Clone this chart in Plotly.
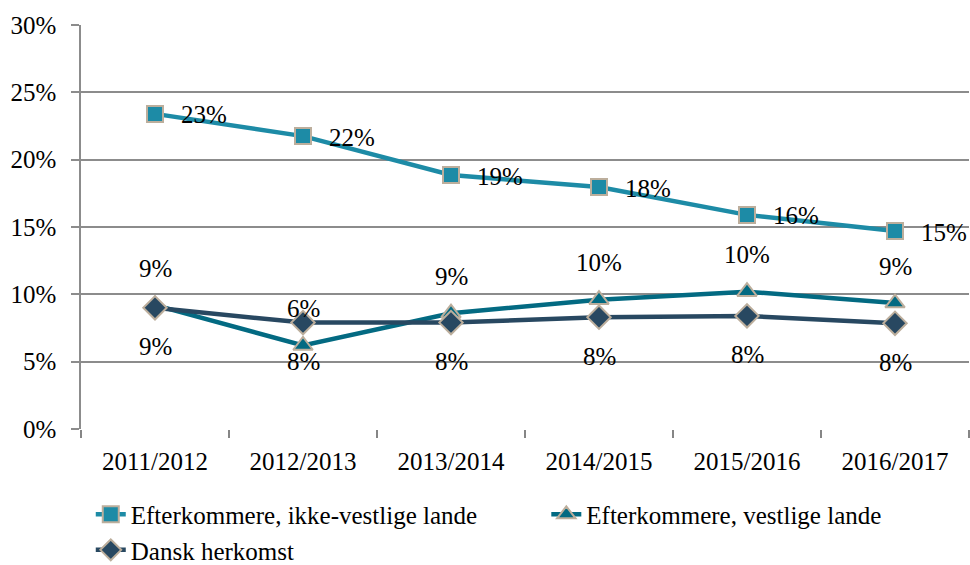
import plotly.graph_objects as go

categories = ["2011/2012", "2012/2013", "2013/2014", "2014/2015", "2015/2016", "2016/2017"]
ikke_vestlige = [23.4, 21.75, 18.86, 17.97, 15.9, 14.7]
vestlige = [9.2, 6.2, 8.6, 9.6, 10.2, 9.35]
dansk = [9.0, 7.9, 7.9, 8.3, 8.4, 7.85]
y_ticks = [0, 5, 10, 15, 20, 25, 30]
y_tick_labels = ["0%", "5%", "10%", "15%", "20%", "25%", "30%"]

FONT = "Liberation Serif, Times New Roman, serif"
FS = 25
border = "#BCAE9C"

fig = go.Figure()
fig.add_trace(go.Scatter(
    x=categories, y=ikke_vestlige, mode="lines+markers",
    name="Efterkommere, ikke-vestlige lande", legend="legend", legendgroup="a",
    line=dict(color="#1D8BA6", width=4.5),
    marker=dict(symbol="square", size=16, color="#1D8BA6", line=dict(color=border, width=2)),
))
fig.add_trace(go.Scatter(
    x=categories, y=vestlige, mode="lines+markers",
    name="Efterkommere, vestlige lande", legend="legend2",
    line=dict(color="#036A82", width=4.5),
    marker=dict(symbol="triangle-up", size=17, color="#036A82", line=dict(color=border, width=2)),
))
fig.add_trace(go.Scatter(
    x=categories, y=dansk, mode="lines+markers",
    name="Dansk herkomst", legend="legend", legendgroup="b",
    line=dict(color="#284861", width=4.5),
    marker=dict(symbol="diamond", size=18, color="#284861", line=dict(color=border, width=2)),
))

tf = dict(family=FONT, size=FS, color="#000")
anns = []
for c, v in zip(categories, ikke_vestlige):
    anns.append(dict(x=c, y=v, text=f"{round(v)}%", showarrow=False, xanchor="left",
                     xshift=24, yshift=-1, font=tf))
for c, v in zip(categories, vestlige):
    anns.append(dict(x=c, y=v, text=f"{round(v)}%", showarrow=False, yshift=37, font=tf))
for c, v in zip(categories, dansk):
    anns.append(dict(x=c, y=v, text=f"{round(v)}%", showarrow=False, yshift=-39, font=tf))

fig.update_layout(
    width=970, height=565,
    margin=dict(l=81, r=1, t=25, b=136, autoexpand=False),
    paper_bgcolor="white", plot_bgcolor="white",
    font=tf,
    annotations=anns,
    showlegend=True,
    legend=dict(orientation="v", x=0.011, y=-0.155, xanchor="left", yanchor="top",
                font=tf, traceorder="grouped", tracegroupgap=0, bgcolor="rgba(0,0,0,0)"),
    legend2=dict(orientation="v", x=0.524, y=-0.155, xanchor="left", yanchor="top",
                 font=tf, bgcolor="rgba(0,0,0,0)"),
    xaxis=dict(type="category", range=[-0.5, len(categories) - 0.5],
               showgrid=False, showline=False, zeroline=False,
               ticks="outside", tickson="boundaries", ticklen=8, tickcolor="#868686",
               tickwidth=1.5, ticklabelstandoff=15, tickfont=tf),
    yaxis=dict(range=[0, 30], tickvals=y_ticks, ticktext=y_tick_labels,
               showgrid=True, gridcolor="#8C8C8C", gridwidth=1.5,
               showline=True, linecolor="#8C8C8C", linewidth=1.5,
               ticks="outside", ticklen=8, tickcolor="#8C8C8C", tickwidth=1.5,
               ticklabelstandoff=10, zeroline=False, tickfont=tf),
)
fig.write_html("out.html", config={"displayModeBar": False},
               post_script="document.body.style.margin='0';document.body.style.overflow='hidden';")
